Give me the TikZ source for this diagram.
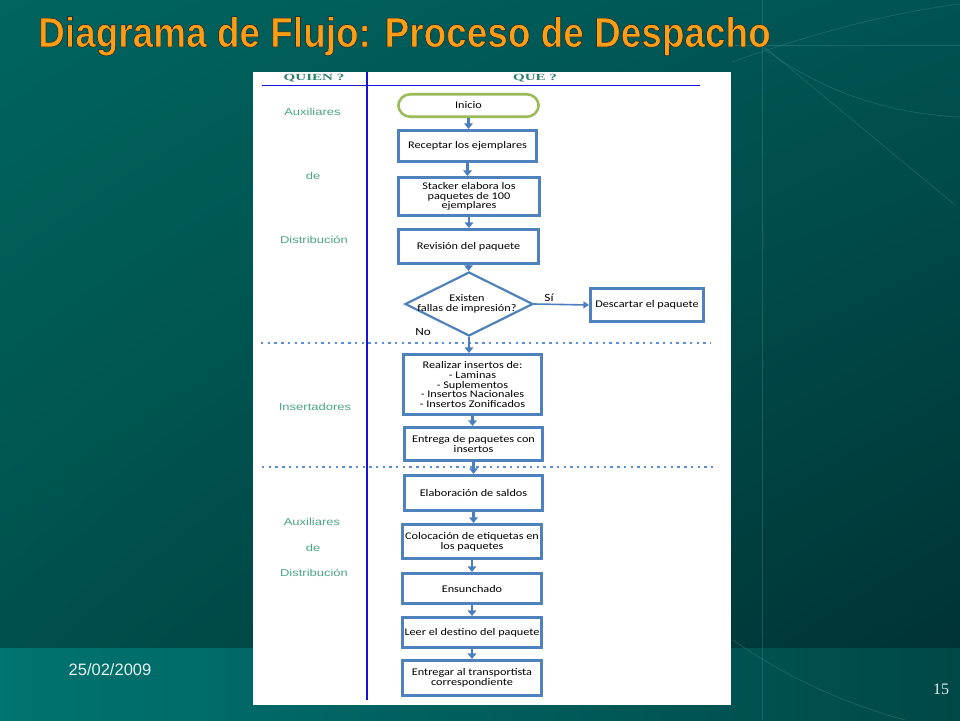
\documentclass[tikz,border=0pt]{standalone}
\usepackage{fontspec}
\setmainfont{Liberation Serif}
\newfontfamily\titlefont[FakeStretch=0.88]{Liberation Sans}
\newfontfamily\boxfont[FakeStretch=1.2]{Carlito}
\newfontfamily\lblfont[FakeStretch=1.3]{Liberation Sans}
\newfontfamily\hdrfont[FakeStretch=1.6]{Liberation Serif}
\newfontfamily\datefont{Liberation Sans}
\usetikzlibrary{arrows.meta,shapes.geometric,calc,shadings}
\definecolor{bgTL}{HTML}{00655F}
\definecolor{bgTR}{HTML}{005353}
\definecolor{bgBL}{HTML}{00504D}
\definecolor{bgBR}{HTML}{003334}
\definecolor{bandL}{HTML}{007470}
\definecolor{bandR}{HTML}{004848}
\definecolor{decoc}{HTML}{3A8C8A}
\definecolor{titleor}{HTML}{FF9D14}
\definecolor{boxblue}{HTML}{4F81BD}
\definecolor{arrowc}{HTML}{4A7EBE}
\definecolor{startgreen}{HTML}{9BBB59}
\definecolor{laneblue}{HTML}{1414D2}
\definecolor{dotblue}{HTML}{5A8FD8}
\definecolor{lblgreen}{HTML}{4CA585}
\definecolor{hdrgreen}{HTML}{2F7F6F}
\definecolor{datec}{HTML}{E6F2F1}
\tikzset{
  deco/.style={draw=decoc, line width=0.7pt, opacity=0.4},
  procbox/.style={draw=boxblue, line width=2.6pt, fill=white, rectangle,
    inner sep=1pt, align=center, text=black,
    font=\boxfont\fontsize{10.2}{9.7}\selectfont},
  startbox/.style={procbox, draw=startgreen, rounded corners=12pt},
  decbox/.style={procbox, diamond, line width=2.2pt, inner sep=0pt},
  arr/.style={draw=arrowc, line width=2.8pt, -{Triangle[length=5.5pt,width=8.5pt]}},
  arrthin/.style={draw=arrowc, line width=1.6pt, -{Triangle[length=5.5pt,width=7pt]}},
  lanelabel/.style={text=lblgreen, font=\lblfont\fontsize{10}{12}\selectfont},
  hdrlabel/.style={text=hdrgreen, font=\hdrfont\bfseries\fontsize{9.4}{10}\selectfont},
  sepline/.style={draw=dotblue, line width=2.4pt, dash pattern=on 2.4pt off 4.3pt},
  yesno/.style={text=black, font=\boxfont\fontsize{11}{12}\selectfont}
}
\begin{document}
\begin{tikzpicture}[x=1pt,y=-1pt]
\useasboundingbox (0,0) rectangle (960,720);
% background
\shade[upper left=bgTL, upper right=bgTR, lower left=bgBL, lower right=bgBR] (0,0) rectangle (960,648);
\shade[left color=bandL, right color=bandR] (0,648) rectangle (960,720);
% decorative faint lines
\draw[deco] (762,0) -- (762,720);
\draw[deco] (735,45) -- (960,45);
\draw[deco] (762,45) -- (955,205);
\draw[deco] (732,62) .. controls (800,38) and (880,14) .. (960,4);
\draw[deco] (762,47) .. controls (830,98) and (900,114) .. (960,117);
\draw[deco] (733,640) .. controls (790,680) and (850,705) .. (905,720);
% title, outlined dark like the reference's shadowed title
\node[anchor=base west, inner sep=0pt, text=titleor] (title) at (38,47)
  {\titlefont\bfseries\fontsize{42}{44}\selectfont
   \special{pdf:literal direct 2 Tr 0.7 w 0.12 0.2 0.19 RG}Diagrama de Flujo: Proceso de Despacho\special{pdf:literal direct 0 Tr}};
% footer
\node[text=datec, font=\datefont\fontsize{16.5}{18}\selectfont] (date) at (110,670) {25/02/2009};
\node[text=datec, font=\rmfamily\fontsize{16}{18}\selectfont] (pagenum) at (941,689) {15};
% white panel
\fill[white] (253,72) rectangle (731,705);
% header and lanes
\coordinate (hl1) at (262,85.5);
\coordinate (hl2) at (700,85.5);
\coordinate (vl1) at (367,72);
\coordinate (vl2) at (367,700);
\draw[draw=laneblue, line width=1.6pt] (hl1) -- (hl2);
\draw[draw=laneblue, line width=2.2pt] (vl1) -- (vl2);
\node[hdrlabel] (quien) at (314,78.5) {QUIEN ?};
\node[hdrlabel] (que) at (535,78.5) {QUE ?};
% separators
\coordinate (s1a) at (261,343);
\coordinate (s1b) at (711,343);
\coordinate (s2a) at (262,467);
\coordinate (s2b) at (714,467);
\draw[sepline] (s1a) -- (s1b);
\draw[sepline] (s2a) -- (s2b);
% lane labels
\node[lanelabel] (l1) at (312.5,112) {Auxiliares};
\node[lanelabel] (l2) at (313,176) {de};
\node[lanelabel] (l3) at (314,240) {Distribución};
\node[lanelabel] (l4) at (315,407) {Insertadores};
\node[lanelabel] (l5) at (312,522) {Auxiliares};
\node[lanelabel] (l6) at (313,548) {de};
\node[lanelabel] (l7) at (314,573) {Distribución};
% flow nodes
\node[startbox, minimum width=140.5pt, minimum height=22.5pt] (inicio) at (468.5,105.5) {Inicio};
\node[procbox, minimum width=138.5pt, minimum height=31.5pt] (recep) at (467.5,146) {Receptar los ejemplares};
\node[procbox, minimum width=141.5pt, minimum height=38.5pt] (stack) at (469,196.5) {Stacker elabora los\\paquetes de 100\\ejemplares};
\node[procbox, minimum width=140.5pt, minimum height=34.5pt] (revis) at (468.5,246.5) {Revisión del paquete};
\node[decbox, minimum width=128pt, minimum height=64pt] (dec) at (469,304) {};
\node[font=\boxfont\fontsize{10.2}{9.7}\selectfont, align=center, inner sep=0pt] (dectext) at (467,304) {Existen\\fallas de impresión?};
\node[procbox, minimum width=113.5pt, minimum height=33.5pt] (desc) at (647,305) {Descartar el paquete};
\node[procbox, minimum width=138.5pt, minimum height=60.5pt] (real) at (472.5,384.5)
  {Realizar insertos de:\\- Laminas\\- Suplementos\\- Insertos Nacionales\\- Insertos Zonificados};
\node[procbox, minimum width=138.5pt, minimum height=33.5pt] (entp) at (473.5,444) {Entrega de paquetes con\\insertos};
\node[procbox, minimum width=138.5pt, minimum height=35.5pt] (elab) at (473.5,493) {Elaboración de saldos};
\node[procbox, minimum width=139.5pt, minimum height=34.5pt] (coloc) at (472,541.5) {Colocación de etiquetas en\\los paquetes};
\node[procbox, minimum width=139.5pt, minimum height=30.5pt] (ensun) at (472,588.5) {Ensunchado};
\node[procbox, minimum width=139.5pt, minimum height=30.5pt] (leer) at (472,632.5) {Leer el destino del paquete};
\node[procbox, minimum width=139.5pt, minimum height=35.5pt] (entr) at (472,678) {Entregar al transportista\\correspondiente};
% labels
\node[yesno] (si) at (549,298) {Sí};
\node[yesno] (no) at (423,332) {No};
% connectors
\draw[arr] (inicio.south) -- (inicio.south |- recep.north);
\draw[arr] (recep.south) -- (recep.south |- stack.north);
\draw[arr] (stack.south) -- (stack.south |- revis.north);
\draw[arr] (revis.south) -- (revis.south |- dec.north);
\draw[arrthin] (dec.east) -- (desc.west);
\draw[arr] (dec.south) -- (dec.south |- real.north);
\draw[arr] (real.south) -- (real.south |- entp.north);
\draw[arr] (entp.south) -- (entp.south |- elab.north);
\draw[arr] (elab.south) -- (elab.south |- coloc.north);
\draw[arr] (coloc.south) -- (coloc.south |- ensun.north);
\draw[arr] (ensun.south) -- (ensun.south |- leer.north);
\draw[arr] (leer.south) -- (leer.south |- entr.north);
\end{tikzpicture}
\end{document}
